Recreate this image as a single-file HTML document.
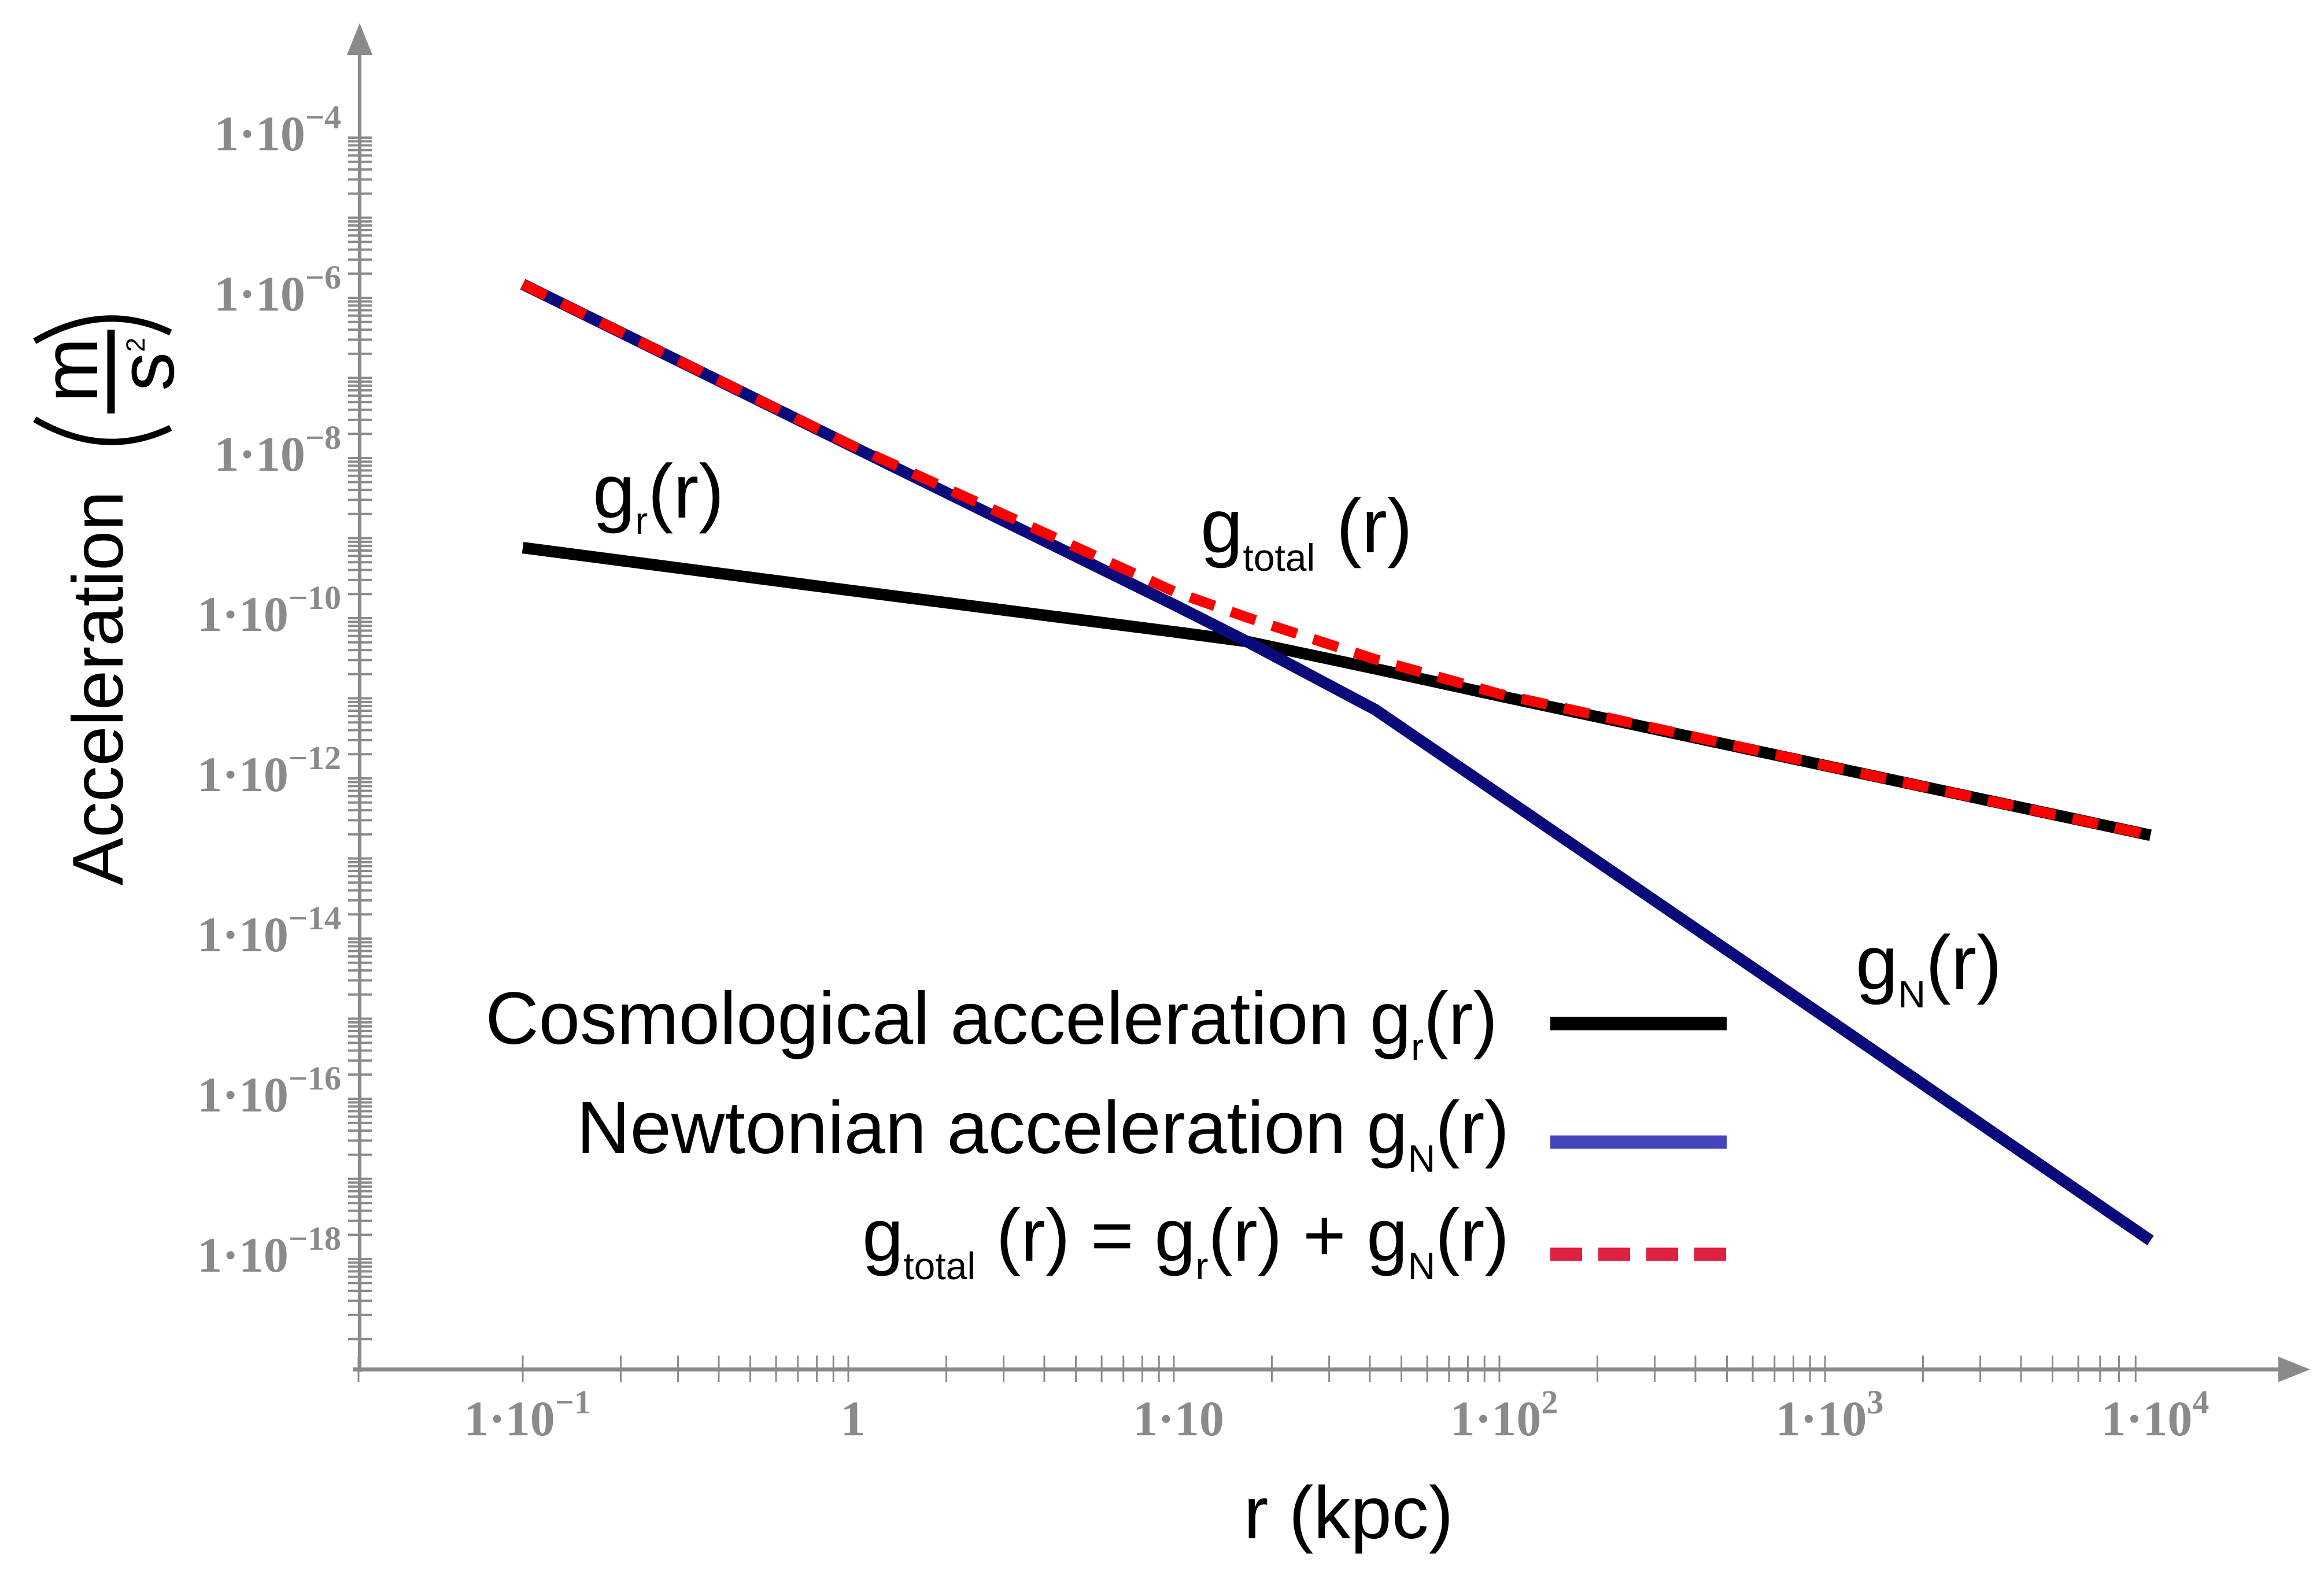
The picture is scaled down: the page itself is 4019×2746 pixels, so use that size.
<!DOCTYPE html>
<html><head><meta charset="utf-8"><style>
html,body{margin:0;padding:0;background:#fff}
svg{display:block}
</style></head><body>
<svg id="chart" width="4019" height="2746" viewBox="0 0 4019 2746" xmlns="http://www.w3.org/2000/svg">
<g id="axes"></g>
<g id="series"></g>
<g font-family="'Liberation Sans',sans-serif" fill="#000">
  <text transform="translate(212,1190) rotate(-90)" text-anchor="middle" font-size="124">Acceleration</text>
  <text transform="translate(168,640) rotate(-90)" text-anchor="middle" font-size="135">m</text>
  <line x1="192" y1="570" x2="192" y2="715" stroke="#000" stroke-width="13"/>
  <text transform="translate(300,630) rotate(-90)" text-anchor="middle" font-size="135">s<tspan dy="-50" font-size="45">2</tspan></text>
  <path d="M60,590 Q180,520 295,575" fill="none" stroke="#000" stroke-width="11"/>
  <path d="M60,725 Q180,795 295,740" fill="none" stroke="#000" stroke-width="11"/>
</g>
<text x="2332" y="2660" text-anchor="middle" font-family="'Liberation Sans',sans-serif" font-size="128">r (kpc)</text>
<g font-family="'Liberation Sans',sans-serif" font-size="132" fill="#000">
  <text x="1025" y="895">g<tspan font-size="66" dy="28">r</tspan><tspan dy="-28">(r)</tspan></text>
  <text x="2076" y="955">g<tspan font-size="66" dy="32">total</tspan><tspan dy="-32"> (r)</tspan></text>
  <text x="3209" y="1710">g<tspan font-size="66" dy="32">N</tspan><tspan dy="-32">(r)</tspan></text>
</g>
<g font-family="'Liberation Sans',sans-serif" font-size="128" fill="#000" text-anchor="end">
  <g>
    <text x="2590" y="1805">Cosmological acceleration g<tspan font-size="66" dy="28">r</tspan><tspan dy="-28">(r)</tspan></text>
    <line x1="2681" y1="1770" x2="2986" y2="1770" stroke="#000" stroke-width="23"/>
  </g>
  <g>
    <text x="2610" y="1994">Newtonian acceleration g<tspan font-size="66" dy="32">N</tspan><tspan dy="-32">(r)</tspan></text>
    <line x1="2681" y1="1975" x2="2986" y2="1975" stroke="#4444bb" stroke-width="23"/>
  </g>
  <g>
    <text x="2610" y="2180">g<tspan font-size="66" dy="32">total</tspan><tspan dy="-32"> (r) = g</tspan><tspan font-size="66" dy="32">r</tspan><tspan dy="-32">(r) + g</tspan><tspan font-size="66" dy="32">N</tspan><tspan dy="-32">(r)</tspan></text>
    <line x1="2681" y1="2169" x2="2986" y2="2169" stroke="#e0203f" stroke-width="23" stroke-dasharray="55,28"/>
  </g>
</g>
</svg>
<script>
// data (log10 values)
const rLog = [-1, 0, 1, 1.224, 1.618, 2, 3, 4];
const grLog = [-9.12, -9.65, -10.17, -10.29, -10.63, -10.97, -11.84, -12.71];
const gNLog = [-5.83, -7.83, -9.83, -10.29, -11.14, -12.2, -14.98, -17.77];
const xTickLabels = ["1·10", "1", "1·10", "1·10", "1·10", "1·10"];
const xTickExps = ["−1", "", "", "2", "3", "4"];
const yTickExps = [-4, -6, -8, -10, -12, -14, -16, -18];

const NS = "http://www.w3.org/2000/svg";
const xPix = l => 904 + (l + 1) * 563;
const yPix = l => 1069 + (-10 - l) * 138.5;
const axes = document.getElementById('axes');
const series = document.getElementById('series');
function mk(tag, attrs, parent) { const e = document.createElementNS(NS, tag); for (const k in attrs) e.setAttribute(k, attrs[k]); parent.appendChild(e); return e; }

const ya = mk('line', {x1: 622, y1: 2372, x2: 622, y2: 80, stroke: '#8a8a8a', 'stroke-width': 6}, axes);


const yarr = mk('polygon', {points: '622,40 600,95 644,95', fill: '#8a8a8a'}, axes);


for (let k = -19; k <= -5; k++) for (let m = 1; m <= 9; m++) {
  const y = yPix(k + Math.log10(m));
  if (y < 100) continue;
  const t = mk('line', {x1: 602, x2: 643, y1: y, y2: y, stroke: '#8a8a8a', 'stroke-width': 4}, axes);
  
  
}
{ const t = mk('line', {x1: 602, x2: 643, y1: yPix(-4), y2: yPix(-4), stroke: '#8a8a8a', 'stroke-width': 4}, axes);
  
   }
yTickExps.forEach(e => {
  const t = mk('text', {x: 590, y: yPix(e) + 22, 'text-anchor': 'end', 'font-family': "'Liberation Serif',serif", 'font-size': 86, 'font-weight': 'bold', fill: '#8a8a8a'}, axes);
  
  
  t.innerHTML = '1·10<tspan dy="-38" font-size="58">−' + Math.abs(e) + '</tspan>';
});
const xa = mk('line', {x1: 610, y1: 2368, x2: 3950, y2: 2368, stroke: '#8a8a8a', 'stroke-width': 7}, axes);


const xarr = mk('polygon', {points: '3995,2368 3940,2346 3940,2390', fill: '#8a8a8a'}, axes);


{ const t = mk('line', {x1: 620, x2: 620, y1: 2344, y2: 2390, stroke: '#8a8a8a', 'stroke-width': 3}, axes);
  
   }
for (let k = -1; k <= 3; k++) for (let m = 1; m <= 9; m++) {
  const x = xPix(k + Math.log10(m));
  const t = mk('line', {x1: x, x2: x, y1: 2344, y2: 2390, stroke: '#8a8a8a', 'stroke-width': 3}, axes);
  
  
}
xTickLabels.forEach((lab, i) => {
  const t = mk('text', {x: xPix(i - 1) + 8, y: 2482, 'text-anchor': 'middle', 'font-family': "'Liberation Serif',serif", 'font-size': 86, 'font-weight': 'bold', fill: '#8a8a8a'}, axes);
  
  
  t.innerHTML = lab + (xTickExps[i] ? '<tspan dy="-38" font-size="58">' + xTickExps[i] + '</tspan>' : '');
});
function pts(arr) { return rLog.map((r, i) => xPix(r).toFixed(1) + ',' + yPix(arr[i]).toFixed(1)).join(' '); }
const totLog = rLog.map((r, i) => Math.log10(Math.pow(10, grLog[i]) + Math.pow(10, gNLog[i])));
const gr = mk('polyline', {points: pts(grLog), fill: 'none', stroke: '#000', 'stroke-width': 20}, series);


const gN = mk('polyline', {points: pts(gNLog), fill: 'none', stroke: '#0a0a7a', 'stroke-width': 20, 'stroke-linejoin': 'round'}, series);


const gt = mk('polyline', {points: pts(totLog), fill: 'none', stroke: '#ff0000', 'stroke-width': 18, 'stroke-dasharray': '45,30'}, series);


</script>
</body></html>
